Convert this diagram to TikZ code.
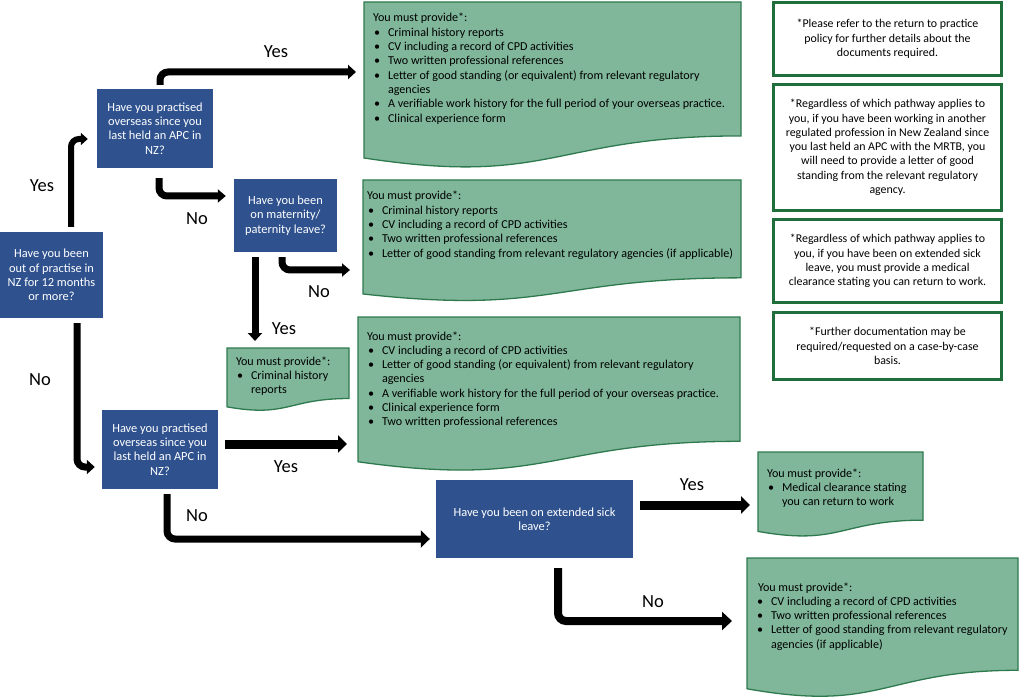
\documentclass[tikz,border=0pt]{standalone}
\usepackage{fontspec}
\setmainfont{Carlito}
\usetikzlibrary{arrows.meta,backgrounds,calc}
\definecolor{qblue}{RGB}{47,82,143}
\definecolor{dfill}{RGB}{128,183,154}
\definecolor{dline}{RGB}{46,122,78}
\definecolor{nline}{RGB}{31,110,60}
\newlength\blm
\setlength\blm{15pt}
\newenvironment{blist}{\begin{list}{\textbullet}{\setlength\leftmargin{\blm}\setlength\labelwidth{6pt}\setlength\labelsep{8pt}\setlength\itemsep{0pt}\setlength\parsep{0pt}\setlength\topsep{0pt}\setlength\partopsep{0pt}\setlength\itemindent{0pt}}}{\end{list}}
% width, height, left inset, first baseline, items
\newcommand\docbody[5]{\parbox[c][#2][t]{#1}{\hspace*{#3}\parbox[t]{\dimexpr#1-#3\relax}{\raggedright\rule{0pt}{#4}You must provide*:\par\begin{blist}#5\end{blist}}}}
\newcommand\docshape[1]{\path[docstyle] let \p1=(#1.north west), \p2=(#1.south east) in
  (\x1,\y1) -- (\x2,\y1) -- (\x2,{\y1+0.802*(\y2-\y1)})
  .. controls ({(\x1+\x2)/2},{\y1+0.802*(\y2-\y1)}) and ({(\x1+\x2)/2},{\y1+1.1075*(\y2-\y1)}) .. (\x1,{\y1+0.934*(\y2-\y1)}) -- cycle;}
\begin{document}
\begin{tikzpicture}[x=1pt,y=-1pt,
  qbox/.style={fill=qblue, text=white, align=center, inner sep=0pt, font=\fontsize{12.4}{14.3}\selectfont},
  docnode/.style={anchor=north west, inner sep=0pt, outer sep=0pt, font=\fontsize{12.1}{14.3}\selectfont},
  docstyle/.style={fill=dfill, draw=dline, line width=1.3pt},
  note/.style={draw=nline, line width=3pt, fill=white, align=center, inner sep=0pt, font=\fontsize{11.9}{14.3}\selectfont},
  lab/.style={font=\fontsize{18.5}{20}\selectfont},
  arr/.style={line width=7pt, rounded corners=8pt, -{Triangle[length=9pt,width=16pt]}}]
\useasboundingbox (0,0) rectangle (1019,700);

% question boxes
\node[qbox, minimum width=103pt, minimum height=86pt] (q1) at (51.5,275) {Have you been\\out of practise in\\NZ for 12 months\\or more?};
\node[qbox, minimum width=116pt, minimum height=79pt] (q2) at (155,128.5) {Have you practised\\overseas since you\\last held an APC in\\NZ?};
\node[qbox, minimum width=103pt, minimum height=73pt] (q3) at (285.5,215.5) {Have you been\\on maternity/\\paternity leave?};
\node[qbox, minimum width=116pt, minimum height=79pt] (q4) at (160,449.5) {Have you practised\\overseas since you\\last held an APC in\\NZ?};
\node[qbox, minimum width=197pt, minimum height=78pt] (q5) at (534.5,519) {Have you been on extended sick\\leave?};

% document boxes
\node[docnode] (g1) at (364,2) {\docbody{377pt}{167pt}{9pt}{20pt}{%
  \item Criminal history reports
  \item CV including a record of CPD activities
  \item Two written professional references
  \item Letter of good standing (or equivalent) from relevant regulatory\newline agencies
  \item A verifiable work history for the full period of your overseas practice.
  \item Clinical experience form}};
\node[docnode] (g2) at (363,180) {\docbody{378pt}{122pt}{4pt}{20pt}{%
  \item Criminal history reports
  \item CV including a record of CPD activities
  \item Two written professional references
  \item Letter of good standing from relevant regulatory agencies (if applicable)}};
\node[docnode] (g3) at (227,348) {\docbody{122pt}{63pt}{9pt}{17pt}{%
  \item Criminal history\newline reports}};
\node[docnode] (g4) at (358,317) {\docbody{382pt}{155pt}{9pt}{23pt}{%
  \item CV including a record of CPD activities
  \item Letter of good standing (or equivalent) from relevant regulatory\newline agencies
  \item A verifiable work history for the full period of your overseas practice.
  \item Clinical experience form
  \item Two written professional references}};
\node[docnode] (g5) at (758,452) {\docbody{165pt}{85pt}{9pt}{25pt}{%
  \item Medical clearance stating\newline you can return to work}};
\node[docnode] (g6) at (747,558) {\setlength\blm{13pt}\docbody{271pt}{140pt}{11pt}{33pt}{%
  \item CV including a record of CPD activities
  \item Two written professional references
  \item Letter of good standing from relevant regulatory\newline agencies (if applicable)}};

\begin{scope}[on background layer]
  \docshape{g1}\docshape{g2}\docshape{g3}\docshape{g4}\docshape{g5}\docshape{g6}
\end{scope}

% notes
\node[note, minimum width=228pt, minimum height=73pt] (n1) at (887.5,39) {*Please refer to the return to practice\\policy for further details about the\\documents required.};
\node[note, minimum width=228pt, minimum height=126pt] (n2) at (887.5,147.5) {*Regardless of which pathway applies to\\you, if you have been working in another\\regulated profession in New Zealand since\\you last held an APC with the MRTB, you\\will need to provide a letter of good\\standing from the relevant regulatory\\agency.};
\node[note, minimum width=228pt, minimum height=83pt] (n3) at (887.5,261) {*Regardless of which pathway applies to\\you, if you have been on extended sick\\leave, you must provide a medical\\clearance stating you can return to work.};
\node[note, minimum width=228pt, minimum height=67pt] (n4) at (887.5,346) {*Further documentation may be\\required/requested on a case-by-case\\basis.};

% connectors
\draw[arr, line width=6pt, -{Triangle[length=7pt,width=12pt]}] ([xshift=19.5pt,yshift=5pt]q1.north) |- ([xshift=-9pt,yshift=-10.5pt]q2.west);
\draw[arr, -{Triangle[length=8pt,width=14pt]}] ([xshift=5pt,yshift=4pt]q2.north) |- ([xshift=-8pt,yshift=13.5pt]g1.west);
\draw[arr, -{Triangle[length=8pt,width=13pt]}] ([xshift=4pt,yshift=-10pt]q2.south) |- ([xshift=-8pt,yshift=19.5pt]q3.west);
\draw[arr, -{Triangle[length=8pt,width=14pt]}] ([xshift=-30.5pt,yshift=-5pt]q3.south) -- ([xshift=-33pt,yshift=7pt]g3.north);
\draw[arr, -{Triangle[length=8pt,width=13pt]}] ([xshift=-3.5pt,yshift=-5pt]q3.south) |- ([xshift=-13pt,yshift=-29pt]g2.west);
\draw[arr, -{Triangle[length=8pt,width=14pt]}] ([xshift=25.5pt,yshift=-5pt]q1.south) |- ([xshift=-7pt,yshift=-17.5pt]q4.west);
\draw[arr, line width=9pt, -{Triangle[length=9pt,width=17pt]}] ([xshift=7pt,yshift=5.5pt]q4.east) -- ([xshift=-11pt,yshift=-49.5pt]g4.west);
\draw[arr, -{Triangle[length=9pt,width=17pt]}] ([xshift=7pt,yshift=-5pt]q4.south) |- ([xshift=-6pt,yshift=-20pt]q5.west);
\draw[arr, line width=9pt, -{Triangle[length=9pt,width=17pt]}] ([xshift=7pt,yshift=14pt]q5.east) -- ([xshift=-8pt,yshift=-10.5pt]g5.west);
\draw[arr, line width=8pt, -{Triangle[length=10pt,width=18pt]}] ([xshift=23.5pt,yshift=-10pt]q5.south) |- ([xshift=-15pt,yshift=7pt]g6.west);

% labels
\node[lab] (l1) at (42,186) {Yes};
\node[lab] (l2) at (276,52) {Yes};
\node[lab] (l3) at (197,219) {No};
\node[lab] (l4) at (284,329) {Yes};
\node[lab] (l5) at (319,292) {No};
\node[lab] (l6) at (40,380) {No};
\node[lab] (l7) at (286,467) {Yes};
\node[lab] (l8) at (197,516) {No};
\node[lab] (l9) at (692,485) {Yes};
\node[lab] (l10) at (653,602) {No};
\end{tikzpicture}
\end{document}
